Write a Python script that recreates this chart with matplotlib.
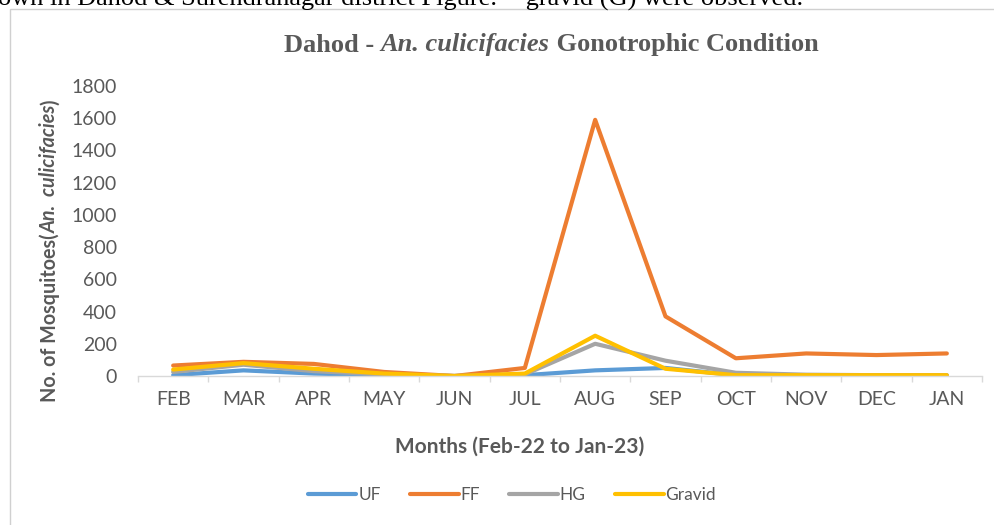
import numpy as np
import matplotlib
matplotlib.use("Agg")
import matplotlib.pyplot as plt
from matplotlib.offsetbox import TextArea, HPacker, AnnotationBbox
from matplotlib.patches import Rectangle

months = ["FEB", "MAR", "APR", "MAY", "JUN", "JUL", "AUG", "SEP", "OCT", "NOV", "DEC", "JAN"]
uf = [5, 35, 15, 5, 0, 5, 35, 50, 5, 2, 2, 2]
ff = [65, 88, 75, 25, 0, 50, 1590, 370, 110, 140, 130, 140]
hg = [25, 70, 30, 10, 0, 10, 200, 95, 20, 8, 5, 5]
gravid = [40, 80, 45, 15, 0, 15, 250, 45, 5, 5, 5, 5]
series_names = ["UF", "FF", "HG", "Gravid"]
series_colors = ["#5B9BD5", "#ED7D31", "#A5A5A5", "#FFC000"]
y_ticks = list(range(0, 1801, 200))

GREY = "#595959"
SANS = "Lato"
SERIF = "Liberation Serif"

fig = plt.figure(figsize=(9.94, 5.25), dpi=100)
W, H = 994, 525

# chart frame (light grey border of the embedded chart)
fig.patches.append(Rectangle((10 / W, -0.1), 1.2, 1 - 9 / H + 0.1, transform=fig.transFigure,
                             fill=False, edgecolor="#D0D0D0", linewidth=1.0))

# running text of the page above the chart, clipped by the top edge
fig.text(-2 / W, 1 - 6 / H, "own in Dahod & Surendranagar district Figure.  - gravid (G) were observed.",
         family=SERIF, fontsize=19, color="black", ha="left", va="baseline")

ax = fig.add_axes([138 / W, 149 / H, 844 / W, 290 / H])
x = np.arange(len(months))
for vals, name, col in zip([uf, ff, hg, gravid], series_names, series_colors):
    ax.plot(x, vals, color=col, linewidth=3.0, label=name, solid_capstyle="round",
            solid_joinstyle="round")

ax.set_xlim(-0.5, len(months) - 0.5)
ax.set_ylim(0, 1800)
for s in ["top", "right", "left"]:
    ax.spines[s].set_visible(False)
ax.spines["bottom"].set_color("#D9D9D9")
ax.spines["bottom"].set_linewidth(1.0)

ax.set_xticks(x)
ax.set_xticklabels(months)
ax.set_xticks(np.arange(-0.5, len(months)), minor=True)
ax.tick_params(axis="x", which="major", length=0, pad=11, labelsize=14, labelcolor=GREY)
ax.tick_params(axis="x", which="minor", length=4, width=1, color="#D9D9D9", direction="out")
ax.set_yticks(y_ticks)
ax.set_yticklabels([str(v) for v in y_ticks])
ax.tick_params(axis="y", length=0, pad=15, labelsize=14, labelcolor=GREY)
for lab in ax.get_xticklabels() + ax.get_yticklabels():
    lab.set_family(SANS)

# x-axis title
fig.text(520 / W, 1 - 447 / H, "Months (Feb-22 to Jan-23)", family=SANS, fontweight="bold",
         fontsize=15, color=GREY, ha="center", va="center")

# y-axis title with italic species name
yfs = 14.2
yl1 = fig.text(50 / W, 1 - 402 / H, "No. of Mosquitoes(", family=SANS, fontweight="bold",
               fontsize=yfs, color=GREY, rotation=90, ha="center", va="bottom")
yl2 = fig.add_artist(matplotlib.text.Annotation(
    "An.  culicifacies", xy=(0.5, 1), xycoords=yl1, family=SANS, fontweight="bold",
    style="italic", fontsize=yfs, color=GREY, rotation=90, ha="center", va="bottom"))
fig.add_artist(matplotlib.text.Annotation(
    ")", xy=(0.5, 1), xycoords=yl2, family=SANS, fontweight="bold",
    fontsize=yfs, color=GREY, rotation=90, ha="center", va="bottom"))

# chart title with italic species name
tprops = dict(family=SERIF, fontweight="bold", fontsize=19, color=GREY)
title_box = HPacker(children=[
    TextArea("Dahod - ", textprops=tprops),
    TextArea("An. culicifacies", textprops=dict(tprops, style="italic")),
    TextArea(" Gonotrophic Condition", textprops=tprops),
], align="baseline", pad=0, sep=0)
fig.add_artist(AnnotationBbox(title_box, (551 / W, 1 - 45 / H), xycoords="figure fraction",
                              box_alignment=(0.5, 0.5), frameon=False, pad=0))

leg = fig.legend(loc="center", bbox_to_anchor=(512 / W, 1 - 495 / H), ncol=4, frameon=False,
                 handlelength=2.8, handletextpad=0.1, columnspacing=1.7,
                 prop=dict(family=SANS, size=12.5))
for t in leg.get_texts():
    t.set_color(GREY)

fig.savefig("out.png", dpi=100, facecolor="white")
